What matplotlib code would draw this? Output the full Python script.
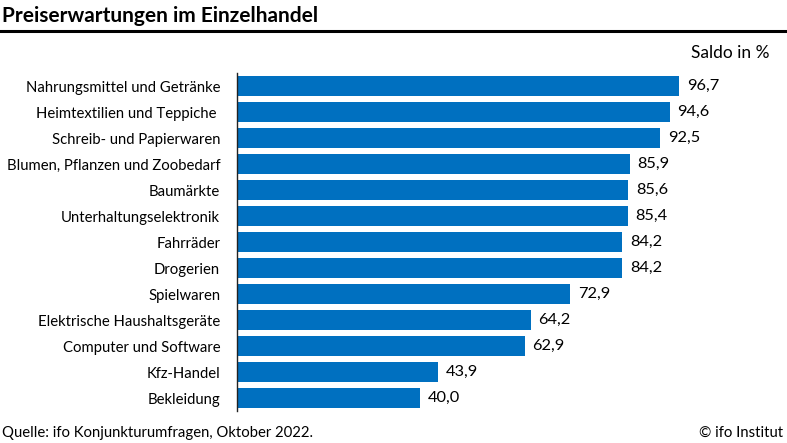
import matplotlib
matplotlib.use("Agg")
from matplotlib import pyplot as plt

plt.rcParams['font.family'] = ['Lato', 'DejaVu Sans']

categories = ['Nahrungsmittel und Getränke', 'Heimtextilien und Teppiche ',
              'Schreib- und Papierwaren', 'Blumen, Pflanzen und Zoobedarf',
              'Baumärkte', 'Unterhaltungselektronik', 'Fahrräder', 'Drogerien',
              'Spielwaren', 'Elektrische Haushaltsgeräte', 'Computer und Software',
              'Kfz-Handel', 'Bekleidung']
values = [96.7, 94.6, 92.5, 85.9, 85.6, 85.4, 84.2, 84.2, 72.9, 64.2, 62.9, 43.9, 40.0]

fig = plt.figure(figsize=(7.87, 4.43), dpi=100)
ax = fig.add_axes([0.301, 0.072, 0.68, 0.763])

y = list(range(len(categories)))
ax.barh(y, values, height=0.77, color='#0070C0')
ax.set_ylim(len(categories) - 0.5, -0.5)
ax.set_xlim(0, 117)
ax.set_yticks(y)
ax.set_yticklabels(categories, fontsize=10.7)
ax.tick_params(axis='y', length=0, pad=12)
ax.set_xticks([])
for s in ['top', 'right', 'bottom']:
    ax.spines[s].set_visible(False)
ax.spines['left'].set_linewidth(1.0)
ax.spines['left'].set_color('#222222')

for i, v in enumerate(values):
    ax.text(v + 1.7, i, f"{v:.1f}".replace('.', ','), va='center', ha='left', fontsize=11.8)

fig.text(0.003, 0.965, 'Preiserwartungen im Einzelhandel', fontsize=15,
         fontweight='bold', va='center', ha='left')
fig.add_artist(plt.Line2D([0, 1], [0.93, 0.93], color='black', linewidth=2.2,
                          transform=fig.transFigure))
fig.text(0.978, 0.88, 'Saldo in %', fontsize=12.5, ha='right', va='center')
fig.text(0.003, 0.022, 'Quelle: ifo Konjunkturumfragen, Oktober 2022.', fontsize=10.7,
         ha='left', va='center')
fig.text(0.995, 0.022, '© ifo Institut', fontsize=10.7, ha='right', va='center')

fig.savefig('out.png', dpi=100)
